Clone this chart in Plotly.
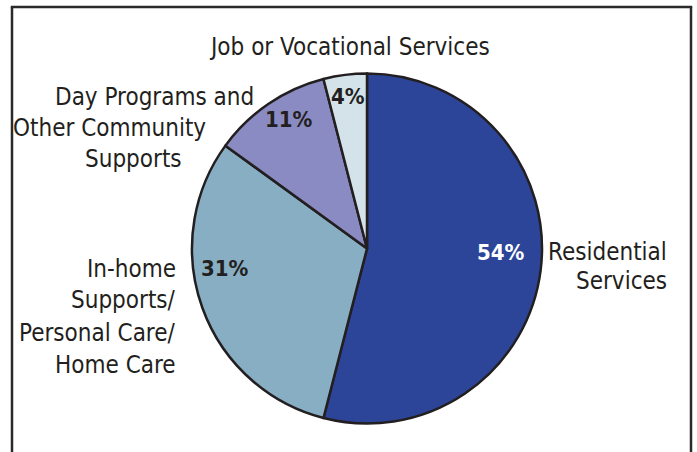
import plotly.graph_objects as go

# Share of spending by service type
categories = [
    "Residential Services",
    "In-home Supports/ Personal Care/ Home Care",
    "Day Programs and Other Community Supports",
    "Job or Vocational Services",
]
shares = [54, 31, 11, 4]
slice_colors = ["#2C4599", "#88AEC4", "#8B8BC3", "#D4E3EA"]
pct_colors = ["#FFFFFF", "#231F20", "#231F20", "#231F20"]

W, H = 697, 452
FONT = "DejaVu Sans Condensed, Liberation Sans Narrow, Arial Narrow, sans-serif"
INK = "#231F20"

# pie centre and radius in pixels
cx, cy, r = 367, 248.5, 175

fig = go.Figure(
    go.Pie(
        labels=categories,
        values=shares,
        sort=False,
        direction="clockwise",
        rotation=0,
        marker=dict(colors=slice_colors, line=dict(color=INK, width=2.5)),
        textinfo="none",
        hoverinfo="label+percent",
        showlegend=False,
        domain=dict(
            x=[(cx - r) / W, (cx + r) / W],
            y=[1 - (cy + r) / H, 1 - (cy - r) / H],
        ),
    )
)


def px(x, y):
    return x / W, 1 - y / H


annotations = []

# percentage labels inside the slices
pct_pos = [(501, 252), (225, 268.5), (289, 119.5), (347.5, 97)]
for v, c, (x, y) in zip(shares, pct_colors, pct_pos):
    ax, ay = px(x, y)
    annotations.append(dict(
        x=ax, y=ay, xref="paper", yref="paper", xanchor="center", yanchor="middle",
        text=f"<b>{v}%</b>", showarrow=False,
        font=dict(family=FONT, size=22, color=c),
    ))

# category labels around the pie, one entry per text line
label_lines = [
    ("Residential", 669, 252, "right"),
    ("Services", 669, 281, "right"),
    ("In-home", 178, 269, "right"),
    ("Supports/", 178, 300, "right"),
    ("Personal Care/", 178, 333, "right"),
    ("Home Care", 178, 365, "right"),
    ("Day Programs and", 256, 97, "right"),
    ("Other Community", 208, 128, "right"),
    ("Supports", 184, 159, "right"),
    ("Job or Vocational Services", 349, 47, "center"),
]
for text, x, y, anchor in label_lines:
    ax, ay = px(x, y)
    annotations.append(dict(
        x=ax, y=ay, xref="paper", yref="paper", xanchor=anchor, yanchor="middle",
        text=text, showarrow=False,
        font=dict(family=FONT, size=24, color=INK),
    ))

# open-bottomed frame around the chart
frame = dict(color="#2A2A2A", width=2.5)
shapes = [
    dict(type="line", xref="paper", yref="paper", x0=12 / W, x1=12 / W, y0=-0.05, y1=1 - 7 / H, line=frame),
    dict(type="line", xref="paper", yref="paper", x0=691 / W, x1=691 / W, y0=-0.05, y1=1 - 7 / H, line=frame),
    dict(type="line", xref="paper", yref="paper", x0=10.8 / W, x1=692.2 / W, y0=1 - 7 / H, y1=1 - 7 / H, line=frame),
]

fig.update_layout(
    width=W, height=H,
    margin=dict(l=0, r=0, t=0, b=0),
    paper_bgcolor="white", plot_bgcolor="white",
    annotations=annotations,
    shapes=shapes,
)

fig.write_html("out.html")
